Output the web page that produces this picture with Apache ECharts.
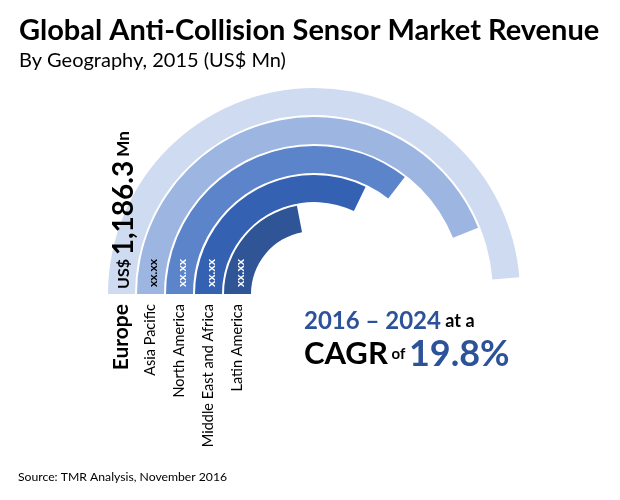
<!DOCTYPE html>
<html>
<head>
<meta charset="utf-8">
<style>html,body{margin:0;padding:0;background:#fff}#main{width:620px;height:500px}</style>
<script src="https://cdn.jsdelivr.net/npm/echarts@6/dist/echarts.min.js"></script>
</head>
<body>
<div id="main"></div>
<script>
// only Europe is printed on the original, the others are read from the arc length
var regions = ['Europe', 'Asia Pacific', 'North America', 'Middle East and Africa', 'Latin America'];
var revenue = [1186.3, 1069, 865, 783, 535];
var valueLabels = ['{a|US$ }{b|1,186.3}{c| Mn}', 'xx.xx', 'xx.xx', 'xx.xx', 'xx.xx'];
var ringColors = ['#cfdbf0', '#9db5e1', '#5c84ca', '#3561b3', '#2f5597'];
var labelColors = ['#000', '#000', '#fff', '#fff', '#fff'];

var font = 'Lato';

var option = {
    backgroundColor: '#fff',
    animation: false,
    title: [{
        text: 'Global Anti-Collision Sensor Market Revenue',
        left: 14, top: 11,
        textStyle: {fontFamily: font, fontSize: 29, fontWeight: 'bold', color: '#000'}
    }, {
        text: 'By Geography, 2015 (US$ Mn)',
        left: 14, top: 46,
        textStyle: {fontFamily: font, fontSize: 20, fontWeight: 'normal', color: '#000'}
    }, {
        text: '{a|2016 – 2024}{b| at a}',
        left: 299, top: 304,
        textStyle: {
            rich: {
                a: {fontFamily: font, fontSize: 24, fontWeight: 'bold', color: '#2c5299'},
                b: {fontFamily: font, fontSize: 18, fontWeight: 'bold', color: '#000'}
            }
        }
    }, {
        text: '{a|CAGR}{b| of }{c|19.8%}',
        left: 299, top: 331,
        textStyle: {
            rich: {
                a: {fontFamily: font, fontSize: 31, fontWeight: 'bold', color: '#000'},
                b: {fontFamily: font, fontSize: 15, fontWeight: 'bold', color: '#000'},
                c: {fontFamily: font, fontSize: 36, fontWeight: 'bold', color: '#2c5299'}
            }
        }
    }, {
        text: 'Source: TMR Analysis, November 2016',
        left: 13, top: 466,
        textStyle: {fontFamily: font, fontSize: 12.2, fontWeight: 'normal', color: '#000'}
    }],
    polar: {center: [314, 294], radius: [62, 207]},
    angleAxis: {
        type: 'value',
        min: 0,
        max: 2436,
        startAngle: 180,
        clockwise: true,
        show: false
    },
    radiusAxis: {
        type: 'category',
        data: regions,
        inverse: true,
        axisLine: {show: false},
        axisTick: {show: false},
        splitLine: {show: false},
        axisLabel: {
            show: true,
            rotate: 90,
            margin: 10,
            fontFamily: font,
            fontSize: 14.5,
            color: '#000',
            interval: 0,
            formatter: function (name) {
                return name === 'Europe' ? '{big|' + name + '}' : name;
            },
            rich: {big: {fontFamily: font, fontSize: 21, fontWeight: 'bold', color: '#000'}}
        }
    },
    series: [{
        type: 'bar',
        coordinateSystem: 'polar',
        barWidth: 27,
        data: revenue.map(function (v, i) {
            return {
                value: v,
                itemStyle: {color: ringColors[i]},
                label: {
                    show: true,
                    position: 'insideStart',
                    rotate: Math.PI / 2, // radians for polar bars
                    offset: i === 0 ? [0, 2] : [2, 3], // along the text, across it
                    formatter: valueLabels[i],
                    color: labelColors[i],
                    fontFamily: font,
                    fontSize: 12,
                    fontWeight: 'bold',
                    rich: {
                        a: {fontFamily: font, fontSize: 16, color: '#000'},
                        b: {fontFamily: font, fontSize: 28, fontWeight: 'bold', color: '#000'},
                        c: {fontFamily: font, fontSize: 17, color: '#000'}
                    }
                }
            };
        })
    }]
};

var myChart = echarts.init(document.getElementById('main'));
myChart.setOption(option);
</script>
</body>
</html>
